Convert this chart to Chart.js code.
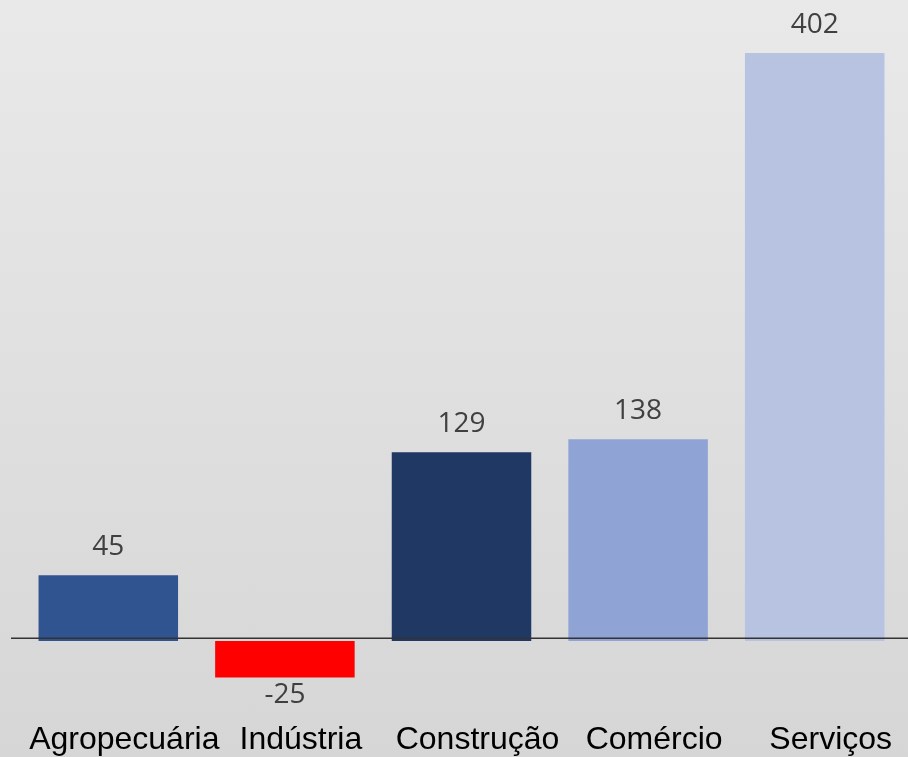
<!DOCTYPE html>
<html>
<head>
<meta charset="utf-8">
<script src="https://cdn.jsdelivr.net/npm/chart.js@4/dist/chart.umd.min.js"></script>
<style>
  html, body { margin: 0; padding: 0; }
  body {
    width: 908px; height: 757px; overflow: hidden;
    background: linear-gradient(to bottom, #e9e9e9 0%, #d6d6d6 100%);
  }
  #chart { display: block; }
</style>
</head>
<body>
<canvas id="chart" width="908" height="757"></canvas>
<script>
const sectors = ['Agropecuária', 'Indústria', 'Construção', 'Comércio', 'Serviços'];
const saldo = [45, -25, 129, 138, 402];
const barColors = ['#30548f', '#ff0000', '#203864', '#8fa3d4', '#b8c3e2'];

// zero line across the whole width + value labels
const valueLabels = {
    id: 'valueLabels',
    afterDatasetsDraw(chart) {
        const ctx = chart.ctx;
        const y0 = chart.scales.y.getPixelForValue(0);
        ctx.save();
        ctx.strokeStyle = '#333333';
        ctx.lineWidth = 1.3;
        ctx.beginPath();
        ctx.moveTo(11, y0 - 2.7);
        ctx.lineTo(chart.width, y0 - 2.7);
        ctx.stroke();

        ctx.font = '28px "Open Sans"';
        ctx.fillStyle = '#404040';
        ctx.textAlign = 'center';
        ctx.textBaseline = 'alphabetic';
        chart.getDatasetMeta(0).data.forEach((bar, i) => {
            const v = saldo[i];
            const y = v >= 0 ? bar.y - 20 : bar.y + 25;
            ctx.fillText(String(v), bar.x, y);
        });
        ctx.restore();
    }
};

new Chart(document.getElementById('chart'), {
    type: 'bar',
    data: {
        labels: sectors,
        datasets: [{
            data: saldo,
            backgroundColor: barColors,
            borderWidth: 0,
            barPercentage: 0.79,
            categoryPercentage: 1
        }]
    },
    options: {
        responsive: false,
        animation: false,
        layout: { padding: { left: 20, right: 5, top: 10, bottom: 0 } },
        plugins: {
            legend: { display: false },
            tooltip: { enabled: false }
        },
        scales: {
            x: {
                grid: { display: false, drawTicks: false },
                border: { display: false },
                afterFit: (scale) => { scale.height = 47; },
                ticks: {
                    color: '#000000',
                    font: { family: '"Liberation Sans", Arial', size: 32 },
                    padding: 11,
                    labelOffset: 16,
                    maxRotation: 0,
                    autoSkip: false
                }
            },
            y: {
                display: false,
                min: -47.2,
                max: 431.4
            }
        }
    },
    plugins: [valueLabels]
});
</script>
</body>
</html>
